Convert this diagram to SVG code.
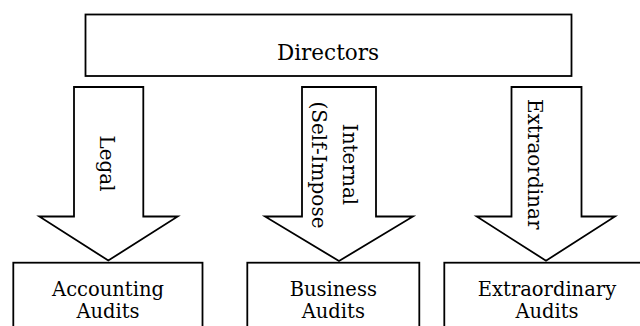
<svg xmlns="http://www.w3.org/2000/svg" width="640" height="326" viewBox="0 0 640 326">
<style>
.box{fill:#fff;stroke:#000;stroke-width:1.8}
.arr{fill:#fff;stroke:#000;stroke-width:1.8;stroke-linejoin:miter}
.t{font-family:"DejaVu Serif","Liberation Serif",serif;fill:#000;text-anchor:middle}
.big{font-size:21.5px}
.lab{font-size:19.5px}
.rot{font-size:20px}
</style>
<rect width="640" height="326" fill="#fff"/>
<g id="directors">
<rect class="box" x="85.5" y="14.5" width="486" height="61.5"/>
<text class="t big" x="328" y="60">Directors</text>
</g>
<g id="connectors">
<g id="arrow-legal">
<polygon class="arr" points="74,87 143.3,87 143.3,216.5 177.7,216.5 108.3,260.5 39.3,216.5 74,216.5"/>
<text class="t rot" transform="translate(99.5,163.5) rotate(90)">Legal</text>
</g>
<g id="arrow-internal">
<polygon class="arr" points="302,87 376,87 376,216.5 413,216.5 339,261 265,216.5 302,216.5"/>
<text class="t rot" transform="translate(342.5,164.5) rotate(90)">Internal</text>
<text class="t rot" transform="translate(311.5,165) rotate(90)">(Self-Impose</text>
</g>
<g id="arrow-extra">
<polygon class="arr" points="511.5,87 581.5,87 581.5,216.5 615,216.5 546,260.7 476.7,216.5 511.5,216.5"/>
<text class="t rot" transform="translate(527.5,164.2) rotate(90)">Extraordinar</text>
</g>
</g>
<g id="accounting">
<rect class="box" x="13.3" y="262.7" width="189.2" height="80"/>
<text class="t lab" x="108" y="295.5">Accounting</text>
<text class="t lab" x="108" y="318">Audits</text>
</g>
<g id="business">
<rect class="box" x="247.3" y="262.7" width="172" height="80"/>
<text class="t lab" x="333.3" y="295.5">Business</text>
<text class="t lab" x="333.3" y="318">Audits</text>
</g>
<g id="extraordinary">
<rect class="box" x="444.3" y="262.7" width="206" height="80"/>
<text class="t lab" x="547" y="295.5">Extraordinary</text>
<text class="t lab" x="547" y="318">Audits</text>
</g>
</svg>
